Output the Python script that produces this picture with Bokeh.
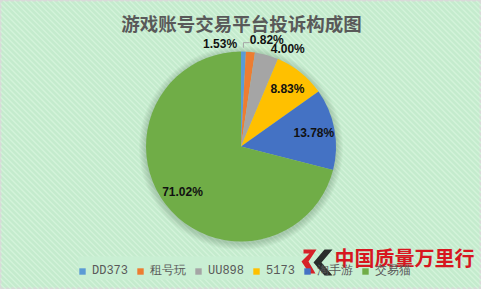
import math
import numpy as np
from bokeh.plotting import figure
from bokeh.models import (ColumnDataSource, Range1d, Legend, LegendItem, Label,
                          PolyAnnotation)
from bokeh.core.properties import value
from bokeh.embed import file_html
from bokeh.resources import INLINE

# ---- data ----
title_text = "游戏账号交易平台投诉构成图"
platforms = ["DD373", "租号玩", "UU898", "5173", "淘手游", "交易猫"]
shares = [0.82, 1.53, 4.00, 8.83, 13.78, 71.02]
colors = ["#5B9BD5", "#ED7D31", "#A5A5A5", "#FFC000", "#4472C4", "#70AD47"]
watermark = "中国质量万里行"

# ---- layout ----
W, H = 481, 289
cx, cy, R = 240.5, 143.0, 95.0
# per-label nudges (px) for labels of small slices placed outside
nudges = [(23, 0), (-31.5, -3.5), (18, -5), (0, 0), (0, 0), (0, 0)]
leader = [True, False, False, False, False, False]

total = sum(shares)
starts, ends, mids = [], [], []
acc = 0.0
for s in shares:
    f0 = acc / total
    acc += s
    f1 = acc / total
    starts.append(math.pi / 2 - 2 * math.pi * f0)
    ends.append(math.pi / 2 - 2 * math.pi * f1)
    mids.append((f0 + f1) / 2)

lx, ly, ltxt = [], [], []
for i, s in enumerate(shares):
    th = 2 * math.pi * mids[i]
    rf = 1.12 if s < 5 else 0.78
    lx.append(cx + R * rf * math.sin(th) + nudges[i][0])
    ly.append(cy + R * rf * math.cos(th) + nudges[i][1])
    ltxt.append(f"{s:.2f}%")

p = figure(width=W, height=H, output_backend="svg", toolbar_location=None,
           x_range=Range1d(0, W), y_range=Range1d(0, H), min_border=0)
p.axis.visible = False
p.grid.visible = False
p.outline_line_color = "#d9d9d9"
p.outline_line_width = 2
p.background_fill_color = "#c4ebcd"
p.border_fill_color = "#c4ebcd"

# diagonal stripe pattern of the chart area
x0s = np.arange(-H, W + 6, 5.5)
p.segment(x0=x0s, y0=H, x1=x0s + H, y1=0, line_color="#d3f3da",
          line_width=1.3)

# legend box (plain fill, drawn under the watermark)
p.quad(left=[78], right=[400], bottom=[10], top=[33], fill_color="#c9efd3",
       line_color=None)

# soft shadow
for k in range(1, 8):
    p.circle(x=[cx], y=[cy - 1.5], radius=R + k, fill_color="#2f5d34",
             fill_alpha=0.035, line_color=None)

src = ColumnDataSource(dict(name=platforms, share=shares, color=colors,
                            start=starts, end=ends))
wr = p.wedge(x=cx, y=cy, radius=R, start_angle="start", end_angle="end",
             direction="clock", fill_color="color", line_color=None, source=src)

# leader lines
for i in range(len(shares)):
    if leader[i]:
        th = 2 * math.pi * mids[i]
        ex = cx + R * 1.0 * math.sin(th)
        ey = cy + R * 1.04 * math.cos(th)
        p.line(x=[lx[i] - 17, ex, ex], y=[ly[i] - 2.5, ly[i] - 2.5, ey],
               line_color="#a6a6a6", line_width=1)

p.text(x=lx, y=ly, text=ltxt, text_align="center", text_baseline="middle",
       text_font=value("Liberation Sans"), text_font_style="bold",
       text_font_size="12px", text_color="#111111")

p.add_layout(Label(x=241, y=H - 22, text=title_text, text_align="center",
                   text_baseline="middle", text_font="Noto Sans CJK SC",
                   text_font_style="bold", text_font_size="18.5px",
                   text_color="#595959"))

legend = Legend(items=[LegendItem(label=n, renderers=[wr], index=i)
                       for i, n in enumerate(platforms)],
                orientation="horizontal", location=(78, 10),
                glyph_width=8, glyph_height=8, label_standoff=6, spacing=8,
                padding=5, margin=0,
                label_text_font="Liberation Mono",
                label_text_font_size="12px", label_text_color="#595959",
                background_fill_alpha=0, border_line_color=None)
p.add_layout(legend, "center")

# watermark logo
p.add_layout(PolyAnnotation(xs=[324, 332, 321, 332, 324, 313],
                            ys=[H - 249, H - 249, H - 262, H - 275, H - 275, H - 262],
                            xs_units="data", ys_units="data",
                            fill_color="#222222", fill_alpha=0.95, line_color=None))
p.add_layout(PolyAnnotation(xs=[303, 316, 308, 315, 309, 301, 309, 303],
                            ys=[H - 249, H - 249, H - 261, H - 273, H - 273, H - 261,
                                H - 253, H - 253],
                            xs_units="data", ys_units="data",
                            fill_color="#d7161f", fill_alpha=0.95, line_color=None))
p.add_layout(Label(x=334, y=H - 257, text=watermark, text_align="left",
                   text_baseline="middle", text_font="Noto Sans CJK SC",
                   text_font_style="bold", text_font_size="20px",
                   text_color="#d7161f"))

open("out.html", "w").write(file_html(p, INLINE))
